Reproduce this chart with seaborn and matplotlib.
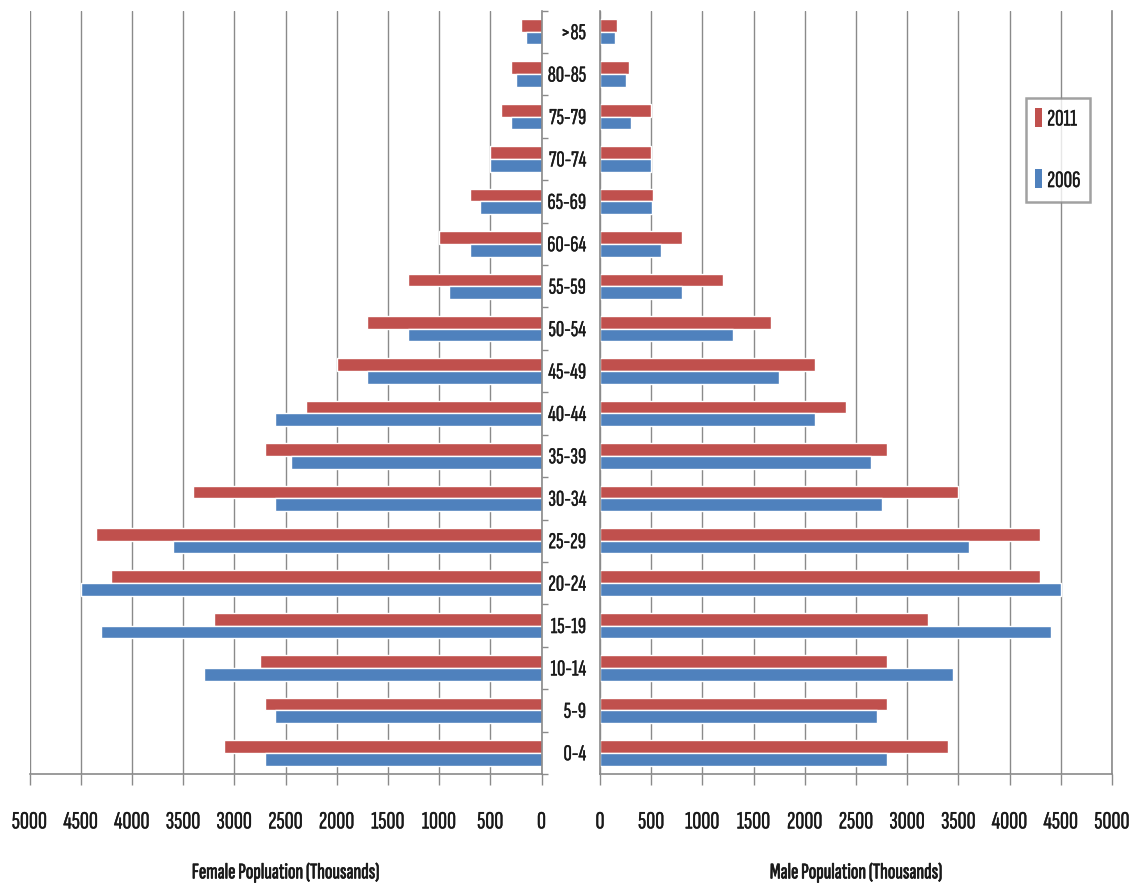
import matplotlib
matplotlib.use("Agg")
import matplotlib.pyplot as plt
from matplotlib.patches import Patch
import matplotlib.patheffects as pe
import seaborn as sns
import pandas as pd
import numpy as np

# Age groups from oldest (top) to youngest (bottom)
age_groups = [">85", "80-85", "75-79", "70-74", "65-69", "60-64", "55-59",
              "50-54", "45-49", "40-44", "35-39", "30-34", "25-29", "20-24",
              "15-19", "10-14", "5-9", "0-4"]

# Population in thousands
female_2011 = [200, 300, 400, 500, 700, 1000, 1300, 1700, 2000, 2300, 2700,
               3400, 4350, 4200, 3200, 2750, 2700, 3100]
female_2006 = [150, 250, 300, 500, 600, 700, 900, 1300, 1700, 2600, 2450,
               2600, 3600, 4500, 4300, 3300, 2600, 2700]
male_2011 = [170, 280, 500, 500, 520, 800, 1200, 1670, 2100, 2400, 2800,
             3500, 4300, 4300, 3200, 2800, 2800, 3400]
male_2006 = [150, 250, 300, 500, 510, 600, 800, 1300, 1750, 2100, 2650,
             2750, 3600, 4500, 4400, 3450, 2700, 2800]

years = ["2011", "2006"]
x_ticks = list(range(0, 5001, 500))

palette = {"2011": "#C0504D", "2006": "#4F81BD"}
grid_color = "#8a8a8a"
text_color = "#1a1a1a"

sns.set_theme(style="white")
plt.rcParams["font.family"] = ["Sofia Sans Extra Condensed", "DejaVu Sans"]

# slightly heavier glyphs for all labels
thin_stroke = [pe.withStroke(linewidth=0.25, foreground=text_color)]
bold_stroke = [pe.withStroke(linewidth=0.55, foreground=text_color)]


def long_frame(v2011, v2006):
    return pd.DataFrame({
        "age": age_groups * 2,
        "year": ["2011"] * len(age_groups) + ["2006"] * len(age_groups),
        "value": list(v2011) + list(v2006),
    })


df_female = long_frame(female_2011, female_2006)
df_male = long_frame(male_2011, male_2006)

fig = plt.figure(figsize=(11.36, 8.86), dpi=100)
ax_f = fig.add_axes([0.0260, 0.1264, 0.4507, 0.8617])
ax_m = fig.add_axes([0.5282, 0.1264, 0.4507, 0.8617])

for ax, df in ((ax_f, df_female), (ax_m, df_male)):
    sns.barplot(data=df, y="age", x="value", hue="year", hue_order=years,
                order=age_groups, palette=palette, orient="h", width=0.6,
                saturation=1, legend=False, ax=ax)
    ax.set_axisbelow(True)
    ax.xaxis.grid(True, color=grid_color, linewidth=1.0)
    ax.yaxis.grid(False)
    ax.set_xticks(x_ticks)
    ax.set_xticklabels([str(t) for t in x_ticks])
    ax.tick_params(axis="x", direction="out", length=8, width=1,
                   color=grid_color, pad=19, labelsize=18, labelcolor=text_color,
                   bottom=True)
    for lbl in ax.get_xticklabels():
        lbl.set_path_effects(thin_stroke)
    ax.set_ylabel("")
    ax.spines["top"].set_visible(False)
    for s in ("bottom", "left", "right"):
        ax.spines[s].set_color(grid_color)
        ax.spines[s].set_linewidth(1.2)
    ax.set_ylim(len(age_groups) - 0.5, -0.5)

# Female side: axis reversed, value axis on the right with boundary ticks
ax_f.set_xlim(5000, 0)
ax_f.spines["left"].set_visible(False)
ax_f.yaxis.tick_right()
ax_f.set_yticks(np.arange(-0.5, len(age_groups), 1.0))
ax_f.set_yticklabels([])
ax_f.tick_params(axis="y", direction="out", length=4, width=1, color=grid_color)
ax_f.set_xlabel("Female Popluation (Thousands)", fontsize=16,
                color=text_color, labelpad=21, path_effects=bold_stroke)

# Male side: age labels between the two halves
ax_m.set_xlim(0, 5000)
ax_m.set_yticks(range(len(age_groups)))
ax_m.set_yticklabels(age_groups)
ax_m.tick_params(axis="y", length=0, pad=10, labelsize=16.5, labelcolor=text_color)
for lbl in ax_m.get_yticklabels():
    lbl.set_path_effects(thin_stroke)
ax_m.set_xlabel("Male Population (Thousands)", fontsize=16,
                color=text_color, labelpad=21, path_effects=bold_stroke)

handles = [Patch(facecolor=palette[y], edgecolor="none", label=y) for y in years]
leg = fig.legend(handles=handles, loc="center", bbox_to_anchor=(0.9313, 0.8307),
                 frameon=True, fancybox=False, shadow=False, fontsize=17,
                 handlelength=0.28, handleheight=0.85, handletextpad=0.22,
                 labelspacing=1.65, borderpad=0.42, borderaxespad=0)
leg.get_frame().set_edgecolor("#8a8a8a")
leg.get_frame().set_linewidth(1.8)
for t in leg.get_texts():
    t.set_color(text_color)
    t.set_path_effects(thin_stroke)

fig.savefig("out.png", dpi=100)
